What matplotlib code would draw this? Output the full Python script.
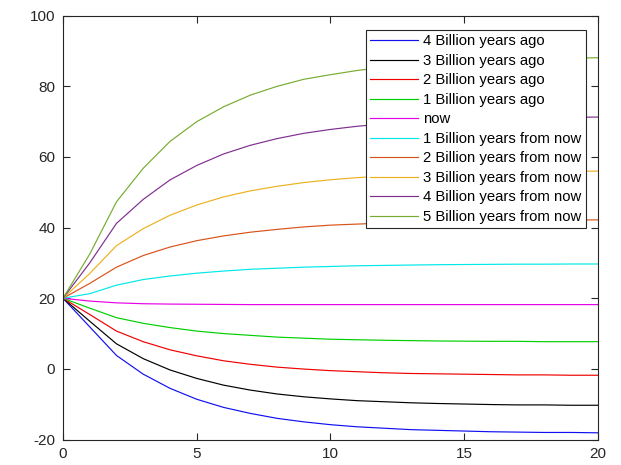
import numpy as np
import matplotlib.pyplot as plt

plt.rcParams['font.family'] = ['Liberation Sans', 'DejaVu Sans']
plt.rcParams['axes.unicode_minus'] = False

# time steps
t = np.arange(0, 21)

# temperature per step for each period
ago4 = [20, 11.9, 3.8, -1.5, -5.5, -8.6, -10.9, -12.6, -14.0, -15.0, -15.8,
        -16.4, -16.8, -17.2, -17.4, -17.6, -17.8, -17.9, -18.0, -18.0, -18.1]
ago3 = [20, 13.5, 7.1, 2.9, -0.3, -2.7, -4.6, -6.0, -7.1, -7.9, -8.5,
        -9.0, -9.3, -9.6, -9.8, -9.95, -10.1, -10.2, -10.2, -10.3, -10.3]
ago2 = [20, 15.4, 10.7, 7.7, 5.4, 3.7, 2.3, 1.3, 0.5, -0.05, -0.5,
        -0.8, -1.1, -1.3, -1.4, -1.5, -1.6, -1.7, -1.7, -1.8, -1.8]
ago1 = [20, 17.2, 14.5, 12.9, 11.7, 10.7, 10.0, 9.5, 9.0, 8.7, 8.4,
        8.25, 8.1, 8.0, 7.9, 7.85, 7.8, 7.8, 7.7, 7.7, 7.7]
now = [20, 19.2, 18.7, 18.45, 18.35, 18.3, 18.25, 18.2, 18.2, 18.2, 18.2,
       18.2, 18.2, 18.2, 18.2, 18.2, 18.2, 18.2, 18.2, 18.2, 18.2]
fut1 = [20, 21.3, 23.7, 25.3, 26.3, 27.1, 27.7, 28.2, 28.5, 28.8, 29.0,
        29.2, 29.3, 29.4, 29.5, 29.55, 29.6, 29.65, 29.65, 29.7, 29.7]
fut2 = [20, 24.2, 28.8, 32.1, 34.5, 36.3, 37.65, 38.7, 39.5, 40.2, 40.7,
        41.0, 41.3, 41.55, 41.7, 41.85, 41.95, 42.0, 42.1, 42.15, 42.2]
fut3 = [20, 27.0, 34.9, 39.7, 43.5, 46.4, 48.7, 50.4, 51.7, 52.75, 53.55,
        54.15, 54.6, 55.0, 55.3, 55.5, 55.65, 55.8, 55.9, 55.95, 56.0]
fut4 = [20, 30.0, 41.2, 48.0, 53.5, 57.6, 60.85, 63.3, 65.2, 66.7, 67.8,
        68.7, 69.35, 69.9, 70.3, 70.6, 70.8, 71.0, 71.1, 71.25, 71.3]
fut5 = [20, 32.5, 47.3, 56.8, 64.4, 70.0, 74.2, 77.5, 80.0, 82.0, 83.3,
        84.5, 85.4, 86.1, 86.7, 87.1, 87.45, 87.7, 87.9, 88.0, 88.1]

series = [ago4, ago3, ago2, ago1, now, fut1, fut2, fut3, fut4, fut5]
labels = ['4 Billion years ago', '3 Billion years ago', '2 Billion years ago',
          '1 Billion years ago', 'now', '1 Billion years from now',
          '2 Billion years from now', '3 Billion years from now',
          '4 Billion years from now', '5 Billion years from now']
colors = ['#1010f0', '#000000', '#f00000', '#00d000', '#e800e8', '#00e8e8',
          '#D95319', '#EDB120', '#7E2F8E', '#77AC30']

fig = plt.figure(figsize=(6.21, 4.65), dpi=100)
ax = fig.add_axes([0.1014, 0.0548, 0.8616, 0.9114])

for y, lab, c in zip(series, labels, colors):
    ax.plot(t, y, color=c, lw=0.85, label=lab)

ax.set_xlim(0, 20)
ax.set_ylim(-20, 100)
ax.set_xticks([0, 5, 10, 15, 20])
ax.set_yticks(np.arange(-20, 101, 20))

grey = '#262626'
for s in ax.spines.values():
    s.set_color(grey)
    s.set_linewidth(0.8)
ax.tick_params(direction='in', top=True, right=True, length=5, width=0.8,
               colors=grey, labelsize=11, pad=5.5)

leg = ax.legend(loc='upper right', bbox_to_anchor=(0.9436, 0.9355),
                bbox_transform=fig.transFigure, borderaxespad=0,
                fontsize=10.7, handlelength=3.2, handletextpad=0.38,
                borderpad=0.3, labelspacing=0.37, fancybox=False,
                framealpha=1, edgecolor=grey)
leg.get_frame().set_linewidth(0.8)

fig.savefig('out.png', dpi=100)
